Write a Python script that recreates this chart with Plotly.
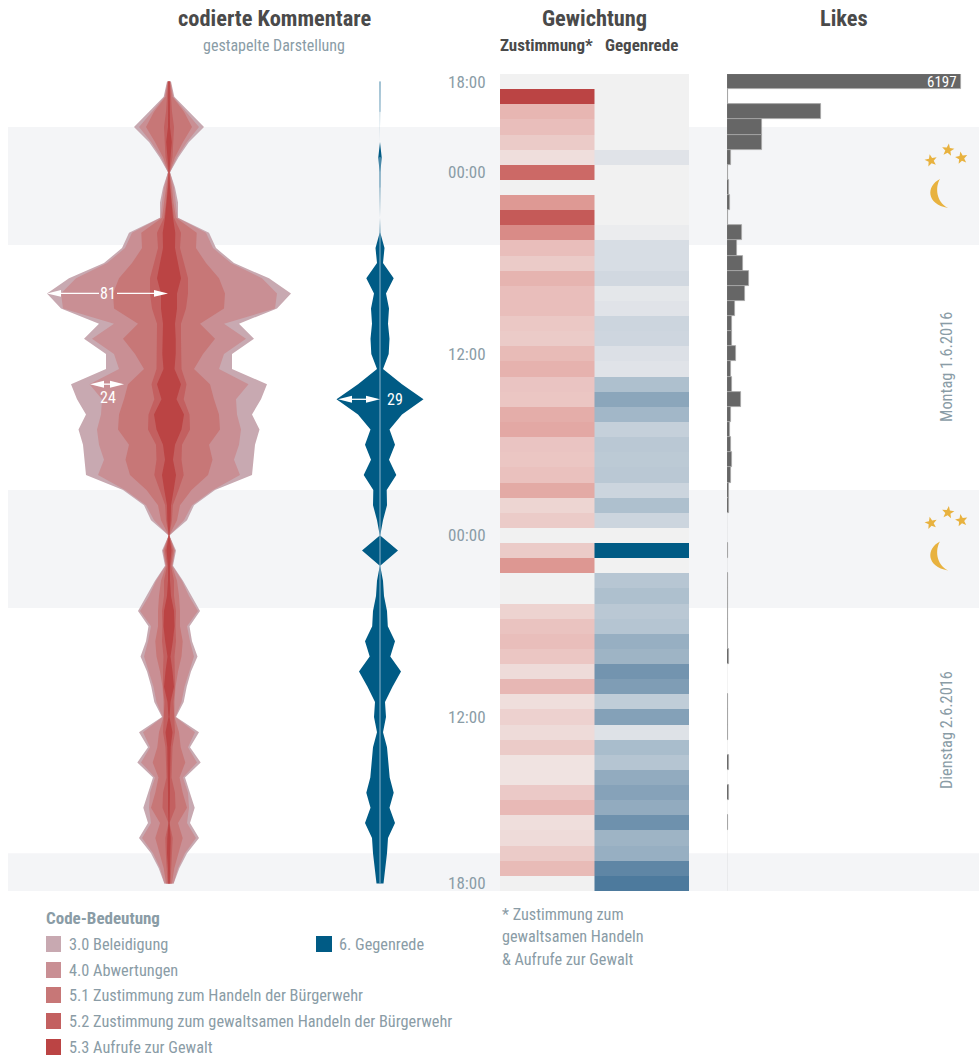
import math
import plotly.graph_objects as go

# ---------- data: 54 hourly time bins, top to bottom ----------
time_rows = list(range(54))
time_ticks = [0, 6, 18, 30, 42, 53]
time_labels = ["18:00", "00:00", "12:00", "00:00", "12:00", "18:00"]

# stacked half-widths of the coded comments (outer to inner)
stack_30 = [2,5.3,20,35,20,9.5,1,6,9,9,40,47,65,100,122,108,70,85,63,63,98,92,83,90.5,86,84.5,83,46,25,18,0.3,
            7,4,14,22.5,31,20.5,23,28.5,22,17.7,14.7,7,30,21,31.7,16,21,25.7,21,30,18,10.3,4.7]
stack_40 = [1.5,4.5,17,30,18,8,1,5,7,8.5,37,44,62,93,108,106,55,77,55,50,79.5,67,68,72,70,65,71,44,23,15,0.3,
            6,3.5,13,20,29,18,21,25,20,15.5,12.5,6.5,26,19,28,14,19,20,18,27,16,9,4.5]
stack_51 = [1.2,3.5,15,23,14,6,0.8,3,4.5,7,27.7,27,37,50,56,55,31,46,34,25,41,45,50,51,40,43.5,39,22.5,11,8,0.3,
            5.5,3,8,10,11,11,13.7,12.5,9,6.5,5.5,5.5,10,11.7,16.3,10.5,13.7,18,9,13.7,9.5,5.3,3]
stack_52 = [1,2,3,5,4,3.5,0.5,1.5,3,5,12,11,15,19,19,17,12,12,12,12.5,17.5,14.7,20.5,21,13,12.5,14.7,9.5,3.8,3,0.3,
            4,2,5,5,7,6.5,7,5.5,6,6,4.5,5,6,3.5,3,2.5,6,6.5,0.5,3.7,3.2,2,1.5]
stack_53 = [0.7,1,1,1,2.8,1.5,0.3,1,2.5,4,6.3,6,9,12,8,8,6,6.7,6.7,5.5,12,7.5,15,12.5,6,4,7,4.7,2,1.7,0.3,
            2.5,1,1,2,5,5.5,3.8,1.5,3.5,5,1.5,0.5,3.5,1.7,1.5,1,1,1,0.5,1.7,2,1,0.7]
gegenrede = [0.3,0.3,0.3,0,0,1.7,0.4,0.3,0,0,0.3,4.5,3,13.7,6,9,8,9.5,8.7,3,22,43.5,22,9.5,15,9,16.3,6.7,7,3,0.2,
             18,0.2,3,4,7,7.8,15,10.3,21,12.5,5,6,3,7,8.3,9.7,13.7,9.5,15,8,7,5.5,3.5]

weight_zustimmung = [0,1,.35,.3,.22,.1,.8,0,.52,.88,.6,.3,.22,.36,.3,.3,.24,.22,.32,.37,.26,.25,.4,.43,.26,.25,.28,
                     .42,.16,.22,0,.22,.53,0,0,.17,.27,.3,.25,.12,.34,.1,.18,.12,.22,.07,.07,.23,.33,.1,.12,.22,.32,0]
weight_gegenrede = [0,0,0,0,0,.08,0,0,0,0,.03,.12,.12,.15,.06,.08,.17,.16,.1,.08,.3,.45,.35,.2,.25,.24,.25,.17,.3,
                    .17,0,1,0,.26,.3,.25,.27,.4,.37,.55,.5,.22,.48,.09,.32,.27,.42,.47,.42,.57,.37,.4,.63,.7]

likes = [6197,25,2500,940,920,100,15,40,75,15,390,265,430,575,485,210,145,128,245,100,128,375,118,82,118,128,118,
         45,45,12,0,35,5,15,35,35,35,35,50,8,8,35,35,35,3,50,8,45,8,35,8,8,8,0]

night_bands = [(3, 10.8), (27, 34.8), (51, 53.5)]

code_names = ["3.0 Beleidigung", "4.0 Abwertungen", "5.1 Zustimmung zum Handeln der Bürgerwehr",
              "5.2 Zustimmung zum gewaltsamen Handeln der Bürgerwehr", "5.3 Aufrufe zur Gewalt"]
code_colors = ["#c8a9b1", "#c98f94", "#c77777", "#c36060", "#bb4444"]
blue = "#005b85"

# ---------- layout helpers ----------
W, H = 979, 1057
MT, MB = 3, 3
FONT = "'Roboto Condensed', Roboto, sans-serif"
GREY = "#8a9ca6"
DARK = "#4a4a4a"
GOLD = "#e8b23f"
px = lambda x: x / W
py = lambda y: 1 - (y - MT) / (H - MT - MB)

fig = go.Figure()

# ---------- streams ----------
for vals, col in zip([stack_30, stack_40, stack_51, stack_52, stack_53], code_colors):
    fig.add_trace(go.Scatter(
        x=[-v for v in vals] + vals[::-1], y=time_rows + time_rows[::-1],
        mode="lines", line=dict(width=0), fill="toself", fillcolor=col,
        hoverinfo="skip", showlegend=False, xaxis="x", yaxis="y"))

fig.add_trace(go.Scatter(
    x=[-v for v in gegenrede] + gegenrede[::-1], y=time_rows + time_rows[::-1],
    mode="lines", line=dict(width=0), fill="toself", fillcolor=blue,
    hoverinfo="skip", showlegend=False, xaxis="x2", yaxis="y"))
fig.add_trace(go.Scatter(
    x=[0 if v > 0 else None for v in gegenrede], y=time_rows,
    mode="lines", line=dict(width=1, color="#8fb6cc"),
    hoverinfo="skip", showlegend=False, xaxis="x2", yaxis="y"))

# ---------- heat columns ----------
fig.add_trace(go.Heatmap(
    z=[[v] for v in weight_zustimmung], x0=0, dx=1, y0=0, dy=1, zmin=0, zmax=1, showscale=False,
    colorscale=[[0, "#f1f1f1"], [.07, "#f0e3e1"], [.3, "#e9bebb"], [.5, "#df9c97"], [.8, "#cc6966"], [1, "#bb4444"]],
    hoverinfo="skip", xaxis="x3", yaxis="y"))
fig.add_trace(go.Heatmap(
    z=[[v] for v in weight_gegenrede], x0=1, dx=1, y0=0, dy=1, zmin=0, zmax=1, showscale=False,
    colorscale=[[0, "#f1f1f1"], [.1, "#dce0e6"], [.3, "#aec0ce"], [.5, "#7f9db5"], [.7, "#4d7a9d"], [1, blue]],
    hoverinfo="skip", xaxis="x3", yaxis="y"))

# ---------- likes ----------
fig.add_trace(go.Bar(
    x=likes, y=time_rows, orientation="h", width=1,
    marker=dict(color="#666666", line=dict(color="#a8a8a8", width=0.8)),
    hoverinfo="skip", showlegend=False, xaxis="x4", yaxis="y"))

# ---------- shapes ----------
shapes = []
for a, b in night_bands:
    shapes.append(dict(type="rect", xref="paper", yref="y", x0=px(8), x1=1, y0=a, y1=b,
                       fillcolor="#f4f5f7", line_width=0, layer="below"))

def star(cx, cy, rot, r=6.5):
    pts = []
    for k in range(10):
        rad = r if k % 2 == 0 else r * 0.42
        ang = math.radians(rot - 90 + 36 * k)
        pts.append((px(cx + rad * math.cos(ang)), py(cy + rad * math.sin(ang))))
    return "M" + " L".join(f"{a:.5f},{b:.5f}" for a, b in pts) + " Z"

def moon(dy):
    P = lambda x, y: f"{px(x):.5f},{py(y + dy):.5f}"
    return (f"M{P(940,179)} C{P(926,186)} {P(926,204)} {P(948,208)} "
            f"C{P(936,202)} {P(935,187)} {P(940,179)} Z")

for dy in (0, 362.5):
    shapes.append(dict(type="path", xref="paper", yref="paper", path=moon(dy), fillcolor=GOLD, line_width=0))
    for cx, cy, rot in [(931, 160.5, -12), (948, 150, 8), (961.5, 158, -10)]:
        shapes.append(dict(type="path", xref="paper", yref="paper", path=star(cx, cy + dy, rot),
                           fillcolor=GOLD, line_width=0))

legend_rows = [944, 970, 995, 1021, 1047]
for yy, col in zip(legend_rows, code_colors):
    shapes.append(dict(type="rect", xref="paper", yref="paper", x0=px(46), x1=px(61),
                       y0=py(yy - 8), y1=py(yy + 8), fillcolor=col, line_width=0))
shapes.append(dict(type="rect", xref="paper", yref="paper", x0=px(316), x1=px(332),
                   y0=py(936), y1=py(952), fillcolor=blue, line_width=0))

def double_arrow(xa, row, tip_a, tip_b, gap=None):
    """white measuring arrow with slim heads, in axis units"""
    head, hh = 14, 0.23
    seg = [(tip_a + head, tip_b - head)] if gap is None else [(tip_a + head, gap[0]), (gap[1], tip_b - head)]
    for a, b in seg:
        shapes.append(dict(type="line", xref=xa, yref="y", x0=a, x1=b, y0=row, y1=row,
                           line=dict(color="white", width=1.3)))
    shapes.append(dict(type="path", xref=xa, yref="y", fillcolor="white", line_width=0,
                       path=f"M{tip_a},{row} L{tip_a+head},{row-hh} L{tip_a+head},{row+hh} Z"))
    shapes.append(dict(type="path", xref=xa, yref="y", fillcolor="white", line_width=0,
                       path=f"M{tip_b},{row} L{tip_b-head},{row-hh} L{tip_b-head},{row+hh} Z"))

double_arrow("x", 14, -122, -1, gap=(-70, -52))
double_arrow("x", 20, -79, -45)
double_arrow("x2", 21, -42, 0)

# ---------- text ----------
ann = []
def T(x, y, text, size=15, color=GREY, bold=False, xanchor="left", angle=0):
    ann.append(dict(x=px(x), y=py(y), xref="paper", yref="paper", showarrow=False,
                    text=f"<b>{text}</b>" if bold else text, textangle=angle,
                    xshift=-2 if xanchor == "left" else 0,
                    xanchor=xanchor, yanchor="middle", font=dict(family=FONT, size=size, color=color)))

T(274, 18, "codierte Kommentare", 22.4, DARK, True, "center")
T(274, 45, "gestapelte Darstellung", 16, GREY, False, "center")
T(594, 18, "Gewichtung", 22.4, DARK, True, "center")
T(546, 45, "Zustimmung*", 17, DARK, True, "center")
T(641, 45, "Gegenrede", 17, DARK, True, "center")
T(844, 18, "Likes", 22.4, DARK, True, "center")
T(946, 367, "Montag 1.6.2016", 16.4, GREY, False, "center", -90)
T(946, 730, "Dienstag 2.6.2016", 16.4, GREY, False, "center", -90)
T(46, 918, "Code-Bedeutung", 17, GREY, True)
for yy, name in zip(legend_rows, code_names):
    T(69, yy, name, 16.3)
T(339, 944, "6. Gegenrede", 16.3)
T(502, 914, "* Zustimmung zum", 16.2)
T(502, 936, "gewaltsamen Handeln", 16.2)
T(502, 959, "&amp; Aufrufe zur Gewalt", 16.2)

def label(xa, row, x, text, shift=0):
    ann.append(dict(xref=xa, yref="y", x=x, y=row, text=text, showarrow=False, yshift=shift,
                    font=dict(family=FONT, size=16, color="white")))

label("x", 14, -61, "81")
label("x", 20, -61, "24", -13)
label("x2", 21, 15, "29")
ann.append(dict(xref="x4", yref="y", x=6197, y=0, text="6197", showarrow=False, xanchor="right", xshift=-2,
                font=dict(family=FONT, size=15, color="white")))

# ---------- axes ----------
blank = dict(visible=False, fixedrange=True, anchor="y")
fig.update_layout(
    width=W, height=H, margin=dict(l=0, r=0, t=MT, b=MB, pad=0), autosize=False,
    paper_bgcolor="white", plot_bgcolor="rgba(0,0,0,0)",
    showlegend=False, bargap=0, shapes=shapes, annotations=ann,
    xaxis=dict(domain=[px(8), px(300)], range=[-161, 131], **blank),
    xaxis2=dict(domain=[px(300), px(460)], range=[-80, 80], **blank),
    xaxis3=dict(domain=[px(500), px(689)], range=[-0.5, 1.5], **blank),
    xaxis4=dict(domain=[px(727), 1], range=[0, 252 * 6197 / 234], **blank),
    yaxis=dict(domain=[py(891), py(74)], range=[53.5, -0.5], anchor="x3", side="left",
               tickmode="array", tickvals=time_ticks, ticktext=time_labels,
               ticks="outside", ticklen=10, tickcolor="rgba(0,0,0,0)",
               tickfont=dict(family=FONT, size=17, color=GREY),
               showgrid=False, zeroline=False, showline=False, fixedrange=True),
)

fig.write_html("out.html", config=dict(displayModeBar=False),
               post_script="document.body.style.margin='0';document.documentElement.style.overflow='hidden';")
